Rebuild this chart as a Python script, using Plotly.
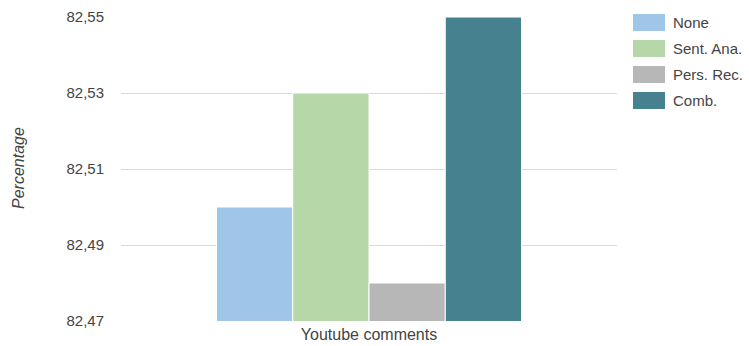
import plotly.graph_objects as go

categories = ["Youtube comments"]
series_names = ["None", "Sent. Ana.", "Pers. Rec.", "Comb."]
series_values = [[82.50], [82.53], [82.48], [82.55]]
colors = ["#9fc5e8", "#b6d7a8", "#b7b7b7", "#45818e"]
y_ticks = [82.47, 82.49, 82.51, 82.53, 82.55]

W, H = 749, 346
L, R, T, B = 121, 132, 17, 25
pw, ph = W - L - R, H - T - B
FONT = "Liberation Sans, Arial"
TXT = "#444444"

fig = go.Figure()
for name, vals, c in zip(series_names, series_values, colors):
    fig.add_trace(go.Bar(
        x=categories, y=vals, name=name, marker_color=c,
        marker_line_color="white", marker_line_width=1,
        base=0, showlegend=False,
    ))

def px2x(px):
    return (px - L) / pw

def py2y(py):
    return (H - B - py) / ph

shapes = []
annotations = []
for i, (name, c) in enumerate(zip(series_names, colors)):
    top = 14 + i * 26
    shapes.append(dict(type="rect", xref="paper", yref="paper",
                       x0=px2x(633), x1=px2x(665), y0=py2y(top + 17), y1=py2y(top),
                       fillcolor=c, line_width=0))
    annotations.append(dict(xref="paper", yref="paper", x=px2x(671), y=py2y(top + 8.5),
                            xanchor="left", yanchor="middle", text=name, showarrow=False,
                            font=dict(family=FONT, size=15, color=TXT)))

annotations.append(dict(xref="paper", yref="paper", x=px2x(18), y=py2y(168),
                        xanchor="center", yanchor="middle", textangle=-90,
                        text="<i>Percentage</i>", showarrow=False,
                        font=dict(family=FONT, size=16, color=TXT)))

fig.update_layout(
    width=W, height=H,
    margin=dict(l=L, r=R, t=T, b=B, autoexpand=False),
    barmode="group", bargap=0.385, bargroupgap=0,
    plot_bgcolor="white", paper_bgcolor="white",
    separators=",.",
    font=dict(family=FONT, size=15, color=TXT),
    shapes=shapes, annotations=annotations,
    showlegend=False,
    yaxis=dict(range=[82.47, 82.55], tickvals=y_ticks, tickformat=".2f",
               showgrid=True, gridcolor="#d9d9d9", gridwidth=1, zeroline=False,
               ticks="", ticklabelstandoff=16, automargin=False,
               tickfont=dict(family=FONT, size=15, color=TXT)),
    xaxis=dict(showline=False, ticks="", automargin=False, ticklabelstandoff=2,
               tickfont=dict(family=FONT, size=16, color=TXT)),
)

fig.write_html("out.html")
